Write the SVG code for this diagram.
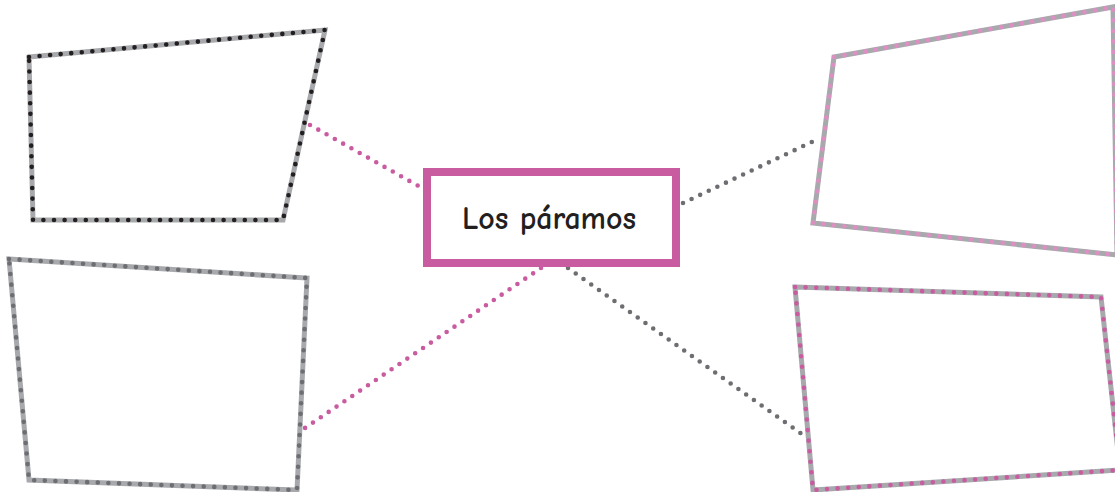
<svg xmlns="http://www.w3.org/2000/svg" width="1115" height="492" viewBox="0 0 1115 492">
<style>
.band{fill:none;stroke:#a7a9ac;stroke-width:5;stroke-linejoin:miter}
.dots{fill:none;stroke-width:4.6;stroke-linecap:round;stroke-dasharray:0 10.6}
.cdots{fill:none;stroke-width:4.6;stroke-linecap:round;stroke-dasharray:0 9.5}
.label{font-family:"Comic Neue","Noto Sans","Liberation Sans",sans-serif;font-size:32px;font-weight:bold;fill:#231f20;text-anchor:middle}
</style>
<rect width="1115" height="492" fill="#ffffff"/>
<g id="connectors">
<line class="cdots" x1="310" y1="125" x2="422" y2="188" stroke="#c95ba0"/>
<line class="cdots" x1="541" y1="268" x2="302" y2="430" stroke="#c95ba0"/>
<line class="cdots" x1="683" y1="203" x2="816" y2="140" stroke="#6d6e71"/>
<line class="cdots" x1="568" y1="268" x2="806" y2="437" stroke="#6d6e71"/>
</g>
<g id="box-top-left">
<polygon class="band" points="29,57 325,30 283,220 33,220"/>
<polygon class="dots" points="29,57 325,30 283,220 33,220" stroke="#231f20"/>
</g>
<g id="box-bottom-left">
<polygon class="band" points="9,259 307,278 297,490 29,480"/>
<polygon class="dots" points="9,259 307,278 297,490 29,480" stroke="#6d6e71"/>
</g>
<g id="box-top-right">
<polygon class="band" points="834,57 1113,7 1117,255 813,223"/>
<polygon class="dots" points="834,57 1113,7 1117,255 813,223" stroke="#dd8fc3"/>
</g>
<g id="box-bottom-right">
<polygon class="band" points="795,287 1101,297 1120,470 813,490"/>
<polygon class="dots" points="795,287 1101,297 1120,470 813,490" stroke="#c95ba0"/>
</g>
<g id="center">
<rect x="427" y="172" width="249" height="91" fill="#ffffff" stroke="#c95ba0" stroke-width="8"/>
<text class="label" x="549" y="229" textLength="174" lengthAdjust="spacingAndGlyphs">Los páramos</text>
</g>
</svg>
